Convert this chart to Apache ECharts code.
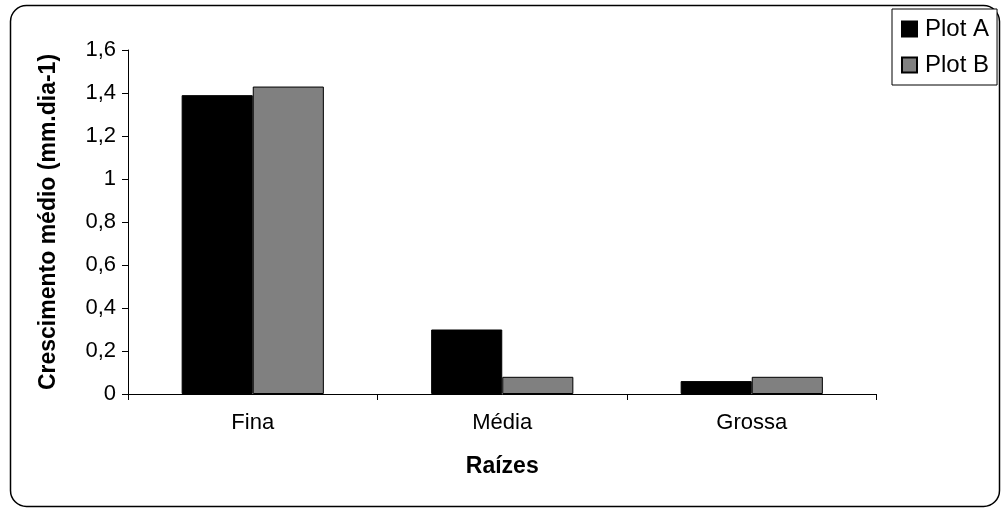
<!DOCTYPE html>
<html>
<head>
<meta charset="utf-8">
<script src="https://cdn.jsdelivr.net/npm/echarts@6/dist/echarts.min.js"></script>
<style>
  html, body { margin: 0; padding: 0; background: #fff; }
  #chart { width: 1002px; height: 509px; }
</style>
</head>
<body>
<div id="chart"></div>
<script>
// Root growth by root class
const categories = ['Fina', 'Média', 'Grossa'];
const plotA = [1.39, 0.30, 0.06];
const plotB = [1.43, 0.08, 0.08];
const seriesNames = ['Plot A', 'Plot B'];

const chart = echarts.init(document.getElementById('chart'));
const font = 'Liberation Sans, Arial, sans-serif';

chart.setOption({
  animation: false,
  backgroundColor: '#fff',
  textStyle: { fontFamily: font, color: '#000' },
  graphic: [{
    type: 'rect',
    shape: { x: 10.5, y: 5.5, width: 989, height: 501, r: 16 },
    style: { fill: 'none', stroke: '#000', lineWidth: 1.5 },
    z: -1
  }],
  legend: {
    data: seriesNames,
    orient: 'vertical',
    left: 892,
    top: 9,
    itemWidth: 15,
    itemHeight: 15,
    itemGap: 12,
    padding: [8, 8, 8, 9],
    backgroundColor: '#fff',
    borderColor: '#000',
    borderWidth: 1,
    textStyle: { fontFamily: font, fontSize: 24, color: '#000', padding: [0, 0, 0, 3] },
    icon: 'rect'
  },
  grid: { left: 128, right: 125.5, top: 50, bottom: 115 },
  xAxis: {
    type: 'category',
    data: categories,
    name: 'Raízes',
    nameLocation: 'middle',
    nameGap: 61,
    nameTextStyle: { fontFamily: font, fontSize: 23, fontWeight: 'bold', color: '#000' },
    axisLine: { lineStyle: { color: '#000', width: 1 } },
    axisTick: { show: true, length: 6, lineStyle: { color: '#000' } },
    axisLabel: { fontFamily: font, fontSize: 22, color: '#000', margin: 18 }
  },
  yAxis: {
    type: 'value',
    min: 0,
    max: 1.6,
    interval: 0.2,
    name: 'Crescimento médio (mm.dia-1)',
    nameLocation: 'middle',
    nameGap: 68,
    nameTextStyle: { fontFamily: font, fontSize: 23, fontWeight: 'bold', color: '#000' },
    splitLine: { show: false },
    axisLine: { show: true, lineStyle: { color: '#000', width: 1 } },
    axisTick: { show: true, length: 6, lineStyle: { color: '#000' } },
    axisLabel: {
      fontFamily: font, fontSize: 22, color: '#000', margin: 12,
      formatter: v => String(Math.round(v * 10) / 10).replace('.', ',')
    }
  },
  series: [
    {
      name: seriesNames[0],
      type: 'bar',
      data: plotA,
      barGap: '0%',
      barCategoryGap: '43%',
      itemStyle: { color: '#000', borderColor: '#000', borderWidth: 1 }
    },
    {
      name: seriesNames[1],
      type: 'bar',
      data: plotB,
      itemStyle: { color: '#808080', borderColor: '#000', borderWidth: 1 }
    }
  ]
});
</script>
</body>
</html>
